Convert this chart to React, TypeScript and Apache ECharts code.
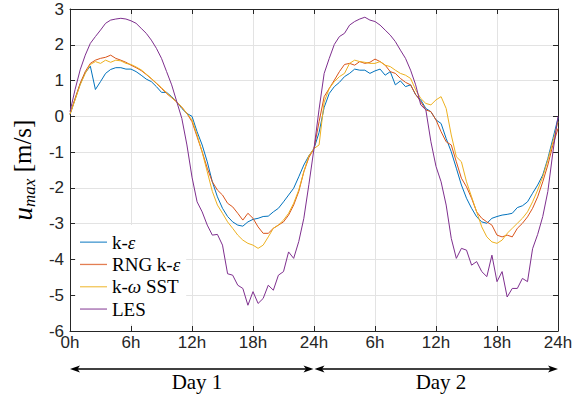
import React, { useEffect, useRef } from "react";
import * as echarts from "echarts";

// sample times (hours, every half hour over two days)
const hours = Array.from({ length: 97 }, (_, i) => i * 0.5);
const xTickLabels = ["0h", "6h", "12h", "18h", "24h", "6h", "12h", "18h", "24h"];
const seriesNames = ["k-ε", "RNG k-ε", "k-ω SST", "LES"];
const seriesColors = ["#0072BD", "#D95319", "#EDB120", "#7E2F8E"];
const dayLabels = ["Day 1", "Day 2"];

const kEps = [
  0.05, 0.48, 0.9, 1.22, 1.4, 0.75, 0.97, 1.2, 1.31, 1.36, 1.36, 1.32, 1.32, 1.25, 1.15, 1.04, 0.97, 0.83, 0.67, 0.67, 0.55, 0.41, 0.22, 0.08, 0.0,
  -0.43, -0.8, -1.27, -1.83, -2.25, -2.57, -2.8, -2.95, -3.04, -3.07, -2.95, -2.88, -2.85, -2.8, -2.79, -2.67, -2.57, -2.39, -2.2, -2.01, -1.69, -1.36, -1.1, -0.9,
  -0.45, 0.25, 0.64, 0.83, 0.95, 1.11, 1.2, 1.32, 1.29, 1.29, 1.2, 1.27, 1.32, 1.15, 1.25, 0.88, 0.99, 0.83, 0.88, 0.6, 0.46, 0.22, 0.13, -0.1,
  -0.2, -0.62, -0.99, -1.45, -1.92, -2.29, -2.57, -2.81, -2.95, -2.99, -2.85, -2.8, -2.76, -2.74, -2.71, -2.55, -2.5, -2.39, -2.15, -1.92, -1.64, -1.18, -0.62, -0.05,
];

const rngKEps = [
  0.06, 0.5, 0.92, 1.25, 1.48, 1.57, 1.62, 1.65, 1.71, 1.62, 1.57, 1.51, 1.43, 1.36, 1.28, 1.17, 1.05, 0.92, 0.78, 0.64, 0.52, 0.4, 0.25, 0.08, -0.15,
  -0.57, -0.99, -1.45, -1.83, -2.06, -2.2, -2.43, -2.53, -2.71, -2.9, -2.71, -2.85, -3.09, -3.27, -3.27, -3.13, -3.04, -2.95, -2.76, -2.48, -2.1, -1.55, -1.15, -0.9,
  -0.15, 0.55, 0.78, 1.01, 1.25, 1.45, 1.48, 1.43, 1.53, 1.48, 1.51, 1.6, 1.53, 1.43, 1.25, 1.2, 1.06, 0.95, 0.88, 0.61, 0.41, 0.18, 0.13, -0.1,
  -0.43, -0.71, -0.8, -1.27, -1.73, -1.97, -2.29, -2.67, -2.85, -2.95, -3.04, -3.32, -3.37, -3.32, -3.37, -3.13, -2.99, -2.81, -2.57, -2.25, -1.83, -1.36, -0.8, -0.34,
];

const kOmegaSst = [
  0.06, 0.46, 0.88, 1.2, 1.45, 1.53, 1.48, 1.57, 1.51, 1.57, 1.55, 1.48, 1.45, 1.38, 1.3, 1.18, 1.06, 0.93, 0.8, 0.66, 0.53, 0.4, 0.26, 0.08, -0.1,
  -0.52, -1.0, -1.55, -2.1, -2.48, -2.71, -2.95, -3.13, -3.32, -3.46, -3.55, -3.6, -3.69, -3.6, -3.37, -3.13, -3.04, -2.9, -2.71, -2.43, -2.06, -1.55, -1.1, -0.9,
  -0.8, 0.4, 0.78, 0.97, 1.11, 1.2, 1.48, 1.57, 1.53, 1.51, 1.48, 1.48, 1.53, 1.43, 1.39, 1.29, 1.2, 1.15, 1.06, 0.74, 0.5, 0.36, 0.32, 0.46,
  0.55, 0.22, -0.52, -1.13, -1.27, -1.83, -2.25, -2.67, -3.09, -3.37, -3.51, -3.55, -3.46, -3.27, -3.13, -2.99, -2.85, -2.67, -2.39, -2.06, -1.69, -1.22, -0.71, -0.15,
];

const les = [
  0.13, 0.75, 1.3, 1.71, 2.04, 2.23, 2.41, 2.6, 2.69, 2.72, 2.74, 2.72, 2.67, 2.6, 2.46, 2.32, 2.13, 1.9, 1.62, 1.25, 0.88, 0.41, -0.06, -0.8, -1.7,
  -2.39, -2.67, -3.04, -3.32, -3.3, -3.6, -4.4, -4.44, -4.72, -4.81, -5.28, -4.9, -5.23, -5.09, -4.72, -4.86, -4.44, -4.34, -3.79, -3.97, -3.5, -2.85, -1.9, -0.9,
  0.2, 1.2, 1.62, 2.01, 2.23, 2.32, 2.55, 2.65, 2.72, 2.77, 2.69, 2.65, 2.55, 2.41, 2.27, 2.09, 1.85, 1.62, 1.29, 0.88, 0.32, 0.18, -0.71, -1.4,
  -1.83, -2.48, -3.41, -3.97, -3.69, -3.74, -4.16, -4.06, -4.34, -4.48, -3.88, -4.62, -4.34, -5.05, -4.81, -4.81, -4.53, -4.62, -3.7, -3.3, -2.8, -2.1, -1.0, 0.0,
];

const seriesValues = [kEps, rngKEps, kOmegaSst, les];

const legendRich: Record<string, string> = {
  "k-ε": "{t|k-}{g|ε}",
  "RNG k-ε": "{t|RNG k-}{g|ε}",
  "k-ω SST": "{t|k-}{g|ω}{t| SST}",
  LES: "{t|LES}",
};

const SERIF = "'Liberation Serif', 'Times New Roman', serif";
const SANS = "'Liberation Sans', Arial, Helvetica, sans-serif";
const AX = "#262626";

export default function App() {
  const ref = useRef<HTMLDivElement>(null);

  useEffect(() => {
    if (!ref.current) return;
    const chart = echarts.init(ref.current, null, { renderer: "svg" });

    const left = 70, top = 9, width = 488, height = 322;
    const arrowY = 369;
    const xMid = left + width / 2;
    const xRight = left + width;

    const headL = (x: number) => [[x, arrowY], [x + 10, arrowY - 3.5], [x + 7.5, arrowY], [x + 10, arrowY + 3.5]];
    const headR = (x: number) => [[x, arrowY], [x - 10, arrowY - 3.5], [x - 7.5, arrowY], [x - 10, arrowY + 3.5]];

    const tickStyle = { show: true, inside: true, length: 5, lineStyle: { color: AX, width: 1 } };
    const lineStyleAx = { show: true, onZero: false, lineStyle: { color: AX, width: 1 } };

    const option: any = {
      animation: false,
      backgroundColor: "#fff",
      grid: { left, top, width, height },
      xAxis: [
        {
          type: "value", min: 0, max: 48, interval: 6, position: "bottom",
          axisLine: lineStyleAx, axisTick: tickStyle,
          axisLabel: {
            margin: 3, color: AX, fontSize: 17, fontFamily: SANS,
            formatter: (v: number) => xTickLabels[Math.round(v / 6)],
          },
          splitLine: { show: true, lineStyle: { color: "#e3e3e3", width: 1 } },
        },
        {
          type: "value", min: 0, max: 48, interval: 6, position: "top",
          axisLine: lineStyleAx, axisTick: tickStyle, axisLabel: { show: false }, splitLine: { show: false },
        },
      ],
      yAxis: [
        {
          type: "value", min: -6, max: 3, interval: 1, position: "left",
          axisLine: lineStyleAx, axisTick: tickStyle,
          axisLabel: { margin: 6, color: AX, fontSize: 17, fontFamily: SANS },
          splitLine: { show: true, lineStyle: { color: "#e3e3e3", width: 1 } },
          name: "{u|u}{s|max}{b| [m/s]}",
          nameLocation: "middle",
          nameGap: 27,
          nameTextStyle: {
            rich: {
              u: { fontFamily: SERIF, fontStyle: "italic", fontSize: 27, color: "#000", lineHeight: 30 },
              s: { fontFamily: SERIF, fontStyle: "italic", fontSize: 17, color: "#000", lineHeight: 30, verticalAlign: "bottom" },
              b: { fontFamily: SERIF, fontSize: 25, color: "#000", lineHeight: 30 },
            },
          },
        },
        {
          type: "value", min: -6, max: 3, interval: 1, position: "right",
          axisLine: lineStyleAx, axisTick: tickStyle, axisLabel: { show: false }, splitLine: { show: false },
        },
      ],
      legend: {
        orient: "vertical",
        left: 76, top: 225,
        padding: [6, 6, 4, 4],
        backgroundColor: "#fff",
        icon: "rect",
        itemWidth: 27, itemHeight: 1.3, itemGap: 0,
        data: seriesNames,
        formatter: (n: string) => legendRich[n],
        textStyle: {
          fontFamily: SERIF, fontSize: 19, color: "#000", lineHeight: 22.3,
          rich: {
            t: { fontFamily: SERIF, fontSize: 19, color: "#000", lineHeight: 22.3 },
            g: { fontFamily: SERIF, fontStyle: "italic", fontSize: 19, color: "#000", lineHeight: 22.3 },
          },
        },
      },
      series: seriesNames.map((name, k) => ({
        name,
        type: "line",
        xAxisIndex: 0, yAxisIndex: 0,
        symbol: "none",
        data: hours.map((h, i) => [h, seriesValues[k][i]]),
        lineStyle: { width: 1, color: seriesColors[k] },
        itemStyle: { color: seriesColors[k], opacity: 0.75 },
        emphasis: { disabled: true },
      })),
      graphic: [
        { type: "line", shape: { x1: left + 3, y1: arrowY, x2: xMid - 3, y2: arrowY }, style: { stroke: "#000", lineWidth: 1.3 } },
        { type: "line", shape: { x1: xMid + 3, y1: arrowY, x2: xRight - 3, y2: arrowY }, style: { stroke: "#000", lineWidth: 1.3 } },
        { type: "polygon", shape: { points: headL(left) }, style: { fill: "#000" } },
        { type: "polygon", shape: { points: headR(xMid - 0.5) }, style: { fill: "#000" } },
        { type: "polygon", shape: { points: headL(xMid + 0.5) }, style: { fill: "#000" } },
        { type: "polygon", shape: { points: headR(xRight) }, style: { fill: "#000" } },
        { type: "text", x: 197, y: 382, style: { text: dayLabels[0], align: "center", verticalAlign: "middle", fontFamily: SERIF, fontSize: 21, fill: "#000" } },
        { type: "text", x: 441, y: 382, style: { text: dayLabels[1], align: "center", verticalAlign: "middle", fontFamily: SERIF, fontSize: 21, fill: "#000" } },
      ],
    };

    chart.setOption(option);
    return () => chart.dispose();
  }, []);

  return (
    <div
      ref={ref}
      style={{ position: "fixed", left: 0, top: 0, width: 583, height: 398, background: "#fff" }}
    />
  );
}
